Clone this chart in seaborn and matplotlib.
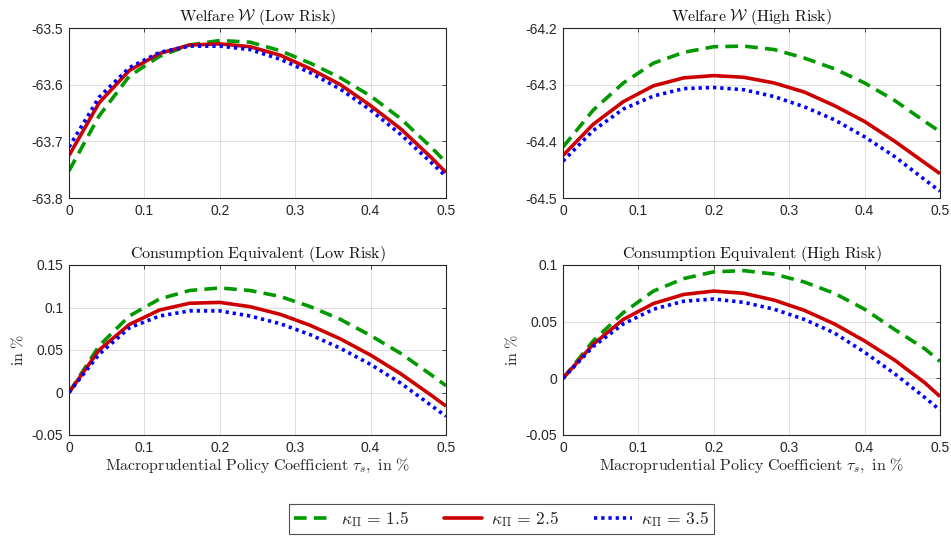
import numpy as np
import pandas as pd
import matplotlib
matplotlib.use("Agg")
import matplotlib.pyplot as plt
from matplotlib.lines import Line2D
import seaborn as sns

# Policy coefficient grid (tau_s, in %)
tau = [0.0, 0.04, 0.08, 0.12, 0.16, 0.20, 0.24,
       0.28, 0.32, 0.36, 0.40, 0.44, 0.48, 0.50]

kappa_labels = [r"$\kappa_\Pi\,=\,1.5$", r"$\kappa_\Pi\,=\,2.5$", r"$\kappa_\Pi\,=\,3.5$"]

# Welfare, low risk
w_low_15 = [-63.752, -63.655, -63.585, -63.550, -63.530, -63.522, -63.525,
            -63.540, -63.562, -63.588, -63.620, -63.660, -63.710, -63.737]
w_low_25 = [-63.725, -63.632, -63.575, -63.545, -63.530, -63.528, -63.533,
            -63.548, -63.572, -63.600, -63.637, -63.678, -63.728, -63.755]
w_low_35 = [-63.710, -63.622, -63.570, -63.543, -63.532, -63.532, -63.538,
            -63.555, -63.579, -63.608, -63.645, -63.688, -63.737, -63.762]

# Welfare, high risk
w_high_15 = [-64.410, -64.345, -64.297, -64.262, -64.243, -64.233, -64.232,
             -64.238, -64.253, -64.272, -64.297, -64.328, -64.365, -64.383]
w_high_25 = [-64.425, -64.370, -64.330, -64.302, -64.288, -64.284, -64.287,
             -64.297, -64.313, -64.337, -64.365, -64.400, -64.438, -64.457]
w_high_35 = [-64.435, -64.381, -64.343, -64.320, -64.307, -64.305, -64.309,
             -64.321, -64.339, -64.362, -64.392, -64.427, -64.468, -64.488]

# Consumption equivalent, low risk
ce_low_15 = [0.0, 0.055, 0.090, 0.110, 0.120, 0.123, 0.120,
             0.113, 0.101, 0.086, 0.067, 0.046, 0.021, 0.008]
ce_low_25 = [0.0, 0.050, 0.080, 0.097, 0.105, 0.106, 0.101,
             0.092, 0.079, 0.063, 0.044, 0.022, -0.003, -0.016]
ce_low_35 = [0.0, 0.045, 0.076, 0.090, 0.096, 0.096, 0.090,
             0.081, 0.068, 0.052, 0.033, 0.011, -0.015, -0.028]

# Consumption equivalent, high risk
ce_high_15 = [0.0, 0.033, 0.058, 0.077, 0.088, 0.094, 0.095,
              0.092, 0.085, 0.075, 0.061, 0.043, 0.026, 0.015]
ce_high_25 = [0.0, 0.030, 0.052, 0.066, 0.074, 0.077, 0.075,
              0.069, 0.060, 0.048, 0.033, 0.016, -0.004, -0.016]
ce_high_35 = [0.0, 0.028, 0.048, 0.061, 0.068, 0.070, 0.067,
              0.061, 0.052, 0.040, 0.023, 0.004, -0.017, -0.028]

sns.set_theme(style="whitegrid")
plt.rcParams["font.family"] = ["Liberation Sans", "DejaVu Sans"]
plt.rcParams["mathtext.fontset"] = "cm"

colors = ["#009900", "#cc0000", "#0000ff"]
styles = [(0, (3.5, 2.0)), "-", (0, (0.9, 1.1))]
lw = 2.6

panels = [
    (r"$\mathrm{Welfare}\ \mathcal{W}\ \mathrm{(Low\ Risk)}$",
     [w_low_15, w_low_25, w_low_35], (-63.8, -63.5), [-63.8, -63.7, -63.6, -63.5]),
    (r"$\mathrm{Welfare}\ \mathcal{W}\ \mathrm{(High\ Risk)}$",
     [w_high_15, w_high_25, w_high_35], (-64.5, -64.2), [-64.5, -64.4, -64.3, -64.2]),
    (r"$\mathrm{Consumption\ Equivalent\ (Low\ Risk)}$",
     [ce_low_15, ce_low_25, ce_low_35], (-0.05, 0.15), [-0.05, 0, 0.05, 0.1, 0.15]),
    (r"$\mathrm{Consumption\ Equivalent\ (High\ Risk)}$",
     [ce_high_15, ce_high_25, ce_high_35], (-0.05, 0.1), [-0.05, 0, 0.05, 0.1]),
]

W, H = 951, 536
fig = plt.figure(figsize=(W / 100, H / 100), dpi=100)

# axes boxes in pixels: left, top, right, bottom
boxes = [(69, 28, 446, 198), (563, 28, 940, 198),
         (69, 265, 446, 435), (563, 265, 940, 435)]

for i, (title, series, ylim, yticks) in enumerate(panels):
    l, t, r, b = boxes[i]
    ax = fig.add_axes([l / W, 1 - b / H, (r - l) / W, (b - t) / H])
    for j, ys in enumerate(series):
        df = pd.DataFrame({"tau": tau, "val": ys})
        sns.lineplot(data=df, x="tau", y="val", ax=ax, color=colors[j],
                     linestyle=styles[j], linewidth=lw, sort=False,
                     estimator=None, solid_capstyle="butt",
                     dash_capstyle="butt")
    xt = [0, 0.1, 0.2, 0.3, 0.4, 0.5]
    ax.set_xlim(0, 0.5)
    ax.set_ylim(*ylim)
    ax.set_xticks(xt)
    ax.set_xticklabels([f"{v:g}" for v in xt])
    ax.set_yticks(yticks)
    ax.set_yticklabels([f"{v:g}" for v in yticks])
    ax.set_title(title, fontsize=11.5, pad=5, color="#111111")
    ax.set_facecolor("white")
    ax.grid(True, color="#dedede", linewidth=0.7)
    for sp in ax.spines.values():
        sp.set_color("#262626")
        sp.set_linewidth(0.8)
        sp.set_visible(True)
    ax.tick_params(axis="both", labelsize=10, colors="#262626",
                   direction="in", length=3, width=0.6, pad=4,
                   top=True, right=True)
    if i >= 2:
        ax.set_xlabel(r"$\mathrm{Macroprudential\ Policy\ Coefficient}\ \tau_s\mathrm{,\ in\ \%}$",
                      fontsize=11.5, labelpad=2, color="#262626")
        ax.set_ylabel(r"$\mathrm{in\ \%}$", fontsize=11.5, labelpad=4, color="#262626")
    else:
        ax.set_xlabel("")
        ax.set_ylabel("")

handles = [Line2D([], [], color=colors[j], linestyle=styles[j], linewidth=lw)
           for j in range(3)]
leg = fig.legend(handles, kappa_labels, loc="center",
                 bbox_to_anchor=(501.5 / W, 1 - 519 / H), ncol=3,
                 fontsize=12.5, frameon=True, fancybox=False,
                 handlelength=2.2, handletextpad=0.5, columnspacing=2.0,
                 borderpad=0.3, borderaxespad=0.3)
leg.get_frame().set_edgecolor("#262626")
leg.get_frame().set_linewidth(0.8)

fig.savefig("out.png", dpi=100, facecolor="white")
